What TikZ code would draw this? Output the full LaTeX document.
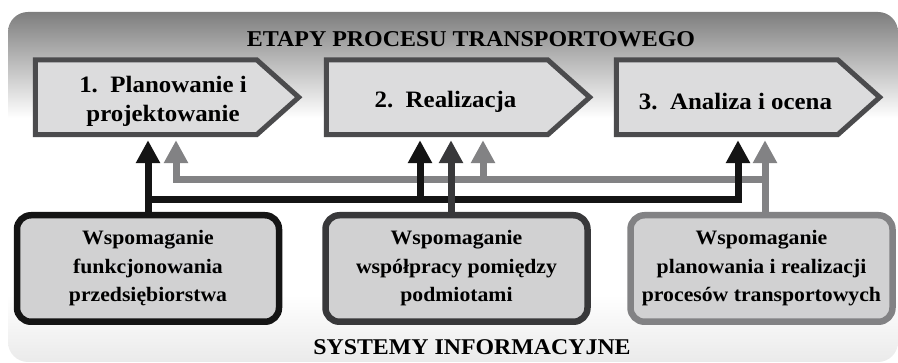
\documentclass[tikz,border=0pt]{standalone}
\usepackage{fontspec}
\setmainfont{Liberation Serif}[FakeStretch=1.06]
\usetikzlibrary{arrows.meta}

\definecolor{bgdark}{HTML}{7E7E7E}
\definecolor{bglight}{HTML}{EAEAEA}
\definecolor{stagefill}{HTML}{DCDCDD}
\definecolor{stageedge}{HTML}{4B4B4D}
\definecolor{boxfill}{HTML}{D1D1D2}
\definecolor{inkA}{HTML}{141414}
\definecolor{inkB}{HTML}{38383A}
\definecolor{inkC}{HTML}{828284}

\tikzset{
  stage/.style={minimum width=221, minimum height=74.5, inner sep=0pt},
  stageline/.style={draw=stageedge, fill=stagefill, line width=5, line join=miter},
  stagetext/.style={align=center, font=\fontsize{23.5}{29}\selectfont\bfseries},
  sysbox/.style={rectangle, rounded corners=14, line width=6.5, fill=boxfill,
    minimum width=262, minimum height=106.5, align=center,
    font=\fontsize{20.5}{28.5}\selectfont\bfseries},
  headline/.style={anchor=base, font=\bfseries},
  up/.style={line width=7, -{Triangle[width=23pt,length=23pt]}, shorten >=5.5pt},
}

\begin{document}
\begin{tikzpicture}[x=1pt, y=-1pt]
\useasboundingbox (0,0) rectangle (898,363);

%% --- background panel ---
\begin{scope}
  \clip[rounded corners=20] (8,12) rectangle (898,362);
  \fill[white] (8,12) rectangle (898,362);
  \shade[top color=bgdark, bottom color=white] (8,12) rectangle (898,118);
  \shade[top color=white, bottom color=bglight] (8,295) rectangle (898,362);
\end{scope}

\node[headline, font=\fontsize{22.6}{26}\selectfont\bfseries] (title) at (471,47)
  {ETAPY PROCESU TRANSPORTOWEGO};
\node[headline, font=\fontsize{22.5}{26}\selectfont\bfseries] (systems) at (472,355)
  {SYSTEMY INFORMACYJNE};

%% --- process stages ---
\node[stage] (st1) at (146,97.25) {};
\node[stage] (st2) at (437,97.25) {};
\node[stage] (st3) at (727,97.25) {};
\foreach \s in {st1,st2,st3}{
  \draw[stageline] (\s.north west) -- (\s.north east) -- ([xshift=42]\s.east)
    -- (\s.south east) -- (\s.south west) -- cycle;
}
\node[stagetext] (t1) at ([xshift=17, yshift=-4.3]st1.center) {1.\ \ Planowanie i\\projektowanie};
\node[stagetext] (t2) at ([xshift=8.5, yshift=-4.3]st2.center) {2.\ \ Realizacja};
\node[stagetext] (t3) at ([xshift=8.5, yshift=-4.3]st3.center) {3.\ \ Analiza i ocena};

%% --- information systems ---
\node[sysbox, draw=inkA] (sysA) at (148,268.5)
  {Wspomaganie\\funkcjonowania\\przedsiębiorstwa};
\node[sysbox, draw=inkB] (sysB) at (456.5,268.5)
  {Wspomaganie\\współpracy pomiędzy\\podmiotami};
\node[sysbox, draw=inkC] (sysC) at (761.5,268.5)
  {Wspomaganie\\planowania i realizacji\\procesów transportowych};

%% --- bus lines ---
\coordinate (g1) at (176,180);
\coordinate (g2) at (483,180);
\coordinate (g3) at (765,180);
\coordinate (b2) at (420,200);
\coordinate (b3) at (738,200);
\coordinate (d2) at (451,200);

% grey: planning / execution support
\draw[up, inkC] (sysC.north -| g3) -- (g3 |- st3.south);
\draw[up, inkC] (g3) -- (g1) -- (g1 |- st1.south);
\draw[up, inkC] (g2) -- (g2 |- st2.south);

% black: enterprise support
\draw[up, inkA] (sysA.north) -- (sysA.north |- st1.south);
\draw[up, inkA] (sysA.north |- b3) -- (b3) -- (b3 |- st3.south);
\draw[up, inkA] (b2) -- (b2 |- st2.south);

% dark grey: cooperation support
\draw[up, inkB] (sysB.north -| d2) -- (d2 |- st2.south);
\end{tikzpicture}
\end{document}
